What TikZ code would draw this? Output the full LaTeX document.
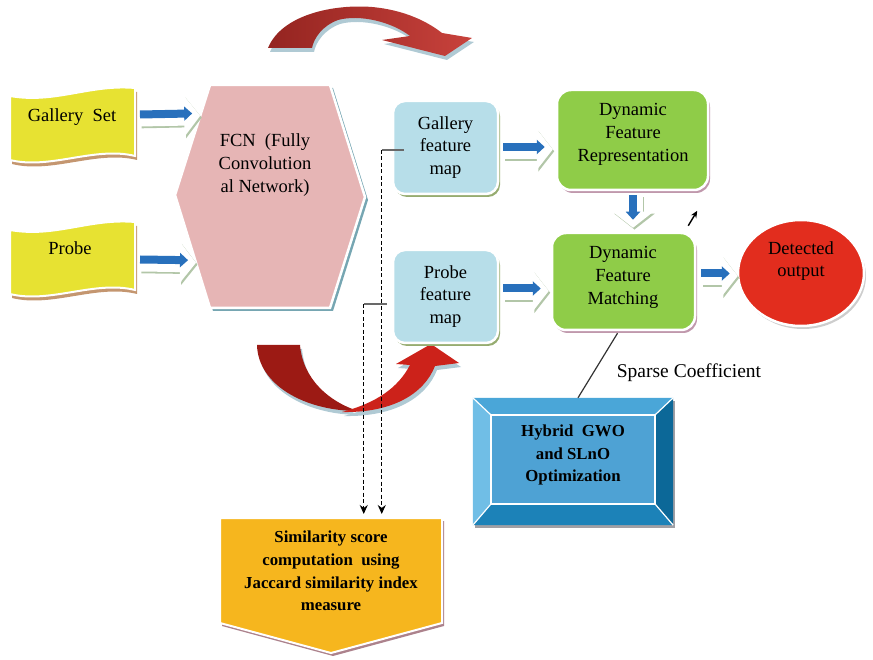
\documentclass[tikz,border=0pt]{standalone}
\usepackage{fontspec}
\setmainfont{Liberation Serif}
\usetikzlibrary{arrows.meta,shadows,shapes.geometric,calc}

\definecolor{flagYellow}{RGB}{231,226,50}
\definecolor{flagShade}{RGB}{196,150,112}
\definecolor{fcnPink}{RGB}{230,181,181}
\definecolor{fcnShade}{RGB}{118,166,178}
\definecolor{mapBlue}{RGB}{183,222,233}
\definecolor{mapShade}{RGB}{150,172,112}
\definecolor{dynGreen}{RGB}{143,204,72}
\definecolor{dynShade}{RGB}{192,152,172}
\definecolor{outRed}{RGB}{226,45,30}
\definecolor{outShade}{RGB}{205,205,205}
\definecolor{flowBlue}{RGB}{40,112,188}
\definecolor{paleShade}{RGB}{178,198,168}
\definecolor{arcDark}{RGB}{148,36,32}
\definecolor{arcLight}{RGB}{200,66,60}
\definecolor{arcLow}{RGB}{156,26,20}
\definecolor{arcBright}{RGB}{204,34,26}
\definecolor{arcShade}{RGB}{176,202,212}
\definecolor{hybOuter}{RGB}{62,152,205}
\definecolor{hybTop}{RGB}{74,166,216}
\definecolor{hybLeft}{RGB}{112,190,230}
\definecolor{hybRight}{RGB}{12,104,152}
\definecolor{hybBottom}{RGB}{28,130,184}
\definecolor{hybInner}{RGB}{78,162,212}
\definecolor{hybShade}{RGB}{160,160,165}
\definecolor{simOrange}{RGB}{246,182,30}
\definecolor{simShade}{RGB}{172,130,140}
\definecolor{stubGray}{RGB}{105,105,105}

% curved arrow outlines (units are points, y grows downwards)
\def\topArc{(268,48) .. controls (282,14) and (335,4) .. (372,7)
  .. controls (405,10) and (428,22) .. (442,33) -- (472,38) -- (445,56)
  -- (382,40) -- (410,36) .. controls (392,22) and (360,14) .. (338,20)
  .. controls (322,26) and (314,38) .. (312,48) -- cycle}
\def\lowArcLeft{(257,345) .. controls (258,385) and (305,411) .. (358,411)
  .. controls (330,402) and (303,380) .. (300,345) -- cycle}
\def\lowArcRight{(342,412) .. controls (392,413) and (424,394) .. (435,366)
  -- (459,363) -- (431,344) -- (396,364) -- (410,365)
  .. controls (398,388) and (376,403) .. (342,412) -- cycle}
\def\flagOutline{(0,8) .. controls (45,16) and (80,-4) .. (125,0) -- (125,68)
  .. controls (85,58) and (40,82) .. (0,72) -- cycle}

% block arrow: pale chevron body with a blue bar on top
\newcommand\flowarrow[3]{%
  \draw[paleEdge] ([shift={(1.5,1.8)}]#1) -- ([shift={(1.5,1.8)}]#2);
  \draw[paleBody] (#1) -- (#2);
  \coordinate (flowBack) at ($(#2)!8pt!(#1)$);
  \draw[blueBody] ($(#1)!#3!90:(#2)$) -- ($(flowBack)!#3!-90:(#1)$);
}

\begin{document}
\begin{tikzpicture}[x=1pt,y=-1pt,
  txt/.style={font=\fontsize{18.5}{22.8}\selectfont, align=center, inner sep=0pt},
  boldtxt/.style={font=\fontsize{16.8}{22.6}\selectfont\bfseries, align=center, inner sep=0pt},
  framed/.style={draw=white, line width=2.5pt},
  flagbox/.style={fill=flagYellow, draw=white, line width=2pt,
    general shadow={fill=flagShade, shadow xshift=2pt, shadow yshift=-4pt}},
  hexbox/.style={fill=fcnPink, framed,
    general shadow={fill=fcnShade, shadow xshift=3pt, shadow yshift=-3pt}},
  mapbox/.style={framed, rectangle, rounded corners=12pt, fill=mapBlue,
    minimum width=105pt, minimum height=93pt, txt,
    general shadow={fill=mapShade, shadow xshift=2pt, shadow yshift=-3pt}},
  dynbox/.style={framed, rectangle, rounded corners=14pt, fill=dynGreen,
    general shadow={fill=dynShade, shadow xshift=2pt, shadow yshift=-3pt}},
  outbox/.style={framed, ellipse, fill=outRed, minimum width=126pt, minimum height=106pt,
    general shadow={fill=outShade, shadow xshift=2pt, shadow yshift=-3pt}},
  hybbox/.style={rectangle, fill=hybOuter, minimum width=200pt, minimum height=127pt, inner sep=0pt,
    general shadow={fill=hybShade, shadow xshift=2pt, shadow yshift=-3pt}},
  simbox/.style={fill=simOrange, draw=white, line width=2pt,
    general shadow={fill=simShade, shadow xshift=2pt, shadow yshift=-3pt}},
  paleBody/.style={draw=white, line width=19pt, -{Triangle[width=40pt,length=16pt]}},
  paleEdge/.style={draw=paleShade, line width=19pt, -{Triangle[width=40pt,length=16pt]}},
  blueBody/.style={draw=flowBlue, line width=8pt, -{Triangle[width=14pt,length=8pt]}},
  dropArrow/.style={draw=black, line width=1.3pt, dash pattern=on 4pt off 2.5pt,
    -{Stealth[length=9pt,width=8pt]}},
  stub/.style={draw=stubGray, line width=1.1pt},
  sparseLine/.style={draw=black!80, line width=1.2pt},
  nudge/.style={draw=black, line width=1.4pt, -{Stealth[length=7pt,width=6pt]}}
]
\useasboundingbox (0,0) rectangle (873,660);

% curved red arrows
\fill[arcShade, shift={(2,4)}] \topArc;
\shade[left color=arcDark, right color=arcLight] \topArc;
\fill[arcShade, shift={(2,4)}] \lowArcLeft;
\fill[arcShade, shift={(2,4)}] \lowArcRight;
\fill[arcLow] \lowArcLeft;
\fill[arcBright] \lowArcRight;

% input banners
\begin{scope}[shift={(10,88)}]
  \path[flagbox] \flagOutline;
  \coordinate (gsEdge) at (130,29);
\end{scope}
\node[txt] (gsText) at (72,117) {Gallery\ \ Set};
\begin{scope}[shift={(10,222)}]
  \path[flagbox] \flagOutline;
  \coordinate (prEdge) at (130,40);
\end{scope}
\node[txt] (prText) at (70,248) {Probe};

% FCN hexagon
\path[hexbox] (210,85) coordinate (hexNW) -- (330,85) coordinate (hexNE)
  -- (365,197) coordinate (hexE) -- (330,308) coordinate (hexSE)
  -- (210,308) coordinate (hexSW) -- (175,195) coordinate (hexW) -- cycle;
\node[txt] (fcn) at (265,165) {FCN\ \ (Fully\\Convolution\\al Network)};

% feature maps
\node[mapbox] (gfm) at (445.5,147.5) {Gallery\\feature\\map};
\node[mapbox] (pfm) at (445.5,296.5) {Probe\\feature\\map};

% dynamic feature stages
\node[dynbox, minimum width=151pt, minimum height=100pt] (dfr) at (632.5,140) {};
\node[txt] (dfrText) at (633,134.5) {Dynamic\\Feature\\Representation};
\node[dynbox, minimum width=143pt, minimum height=97pt] (dfm) at (623.5,281.5) {};
\node[txt] (dfmText) at (623,277.5) {Dynamic\\Feature\\Matching};

% output
\node[outbox] (det) at (801,273) {};
\node[txt] (detText) at (801,261) {Detected\\output};

% optimisation block with bevelled frame
\node[hybbox] (hyb) at (573,461.5) {};
\coordinate (hA) at (hyb.north west);
\coordinate (hB) at (hyb.north east);
\coordinate (hC) at (hyb.south east);
\coordinate (hD) at (hyb.south west);
\coordinate (iA) at ([shift={(18,17)}]hyb.north west);
\coordinate (iB) at ([shift={(-18,17)}]hyb.north east);
\coordinate (iC) at ([shift={(-18,-21)}]hyb.south east);
\coordinate (iD) at ([shift={(18,-21)}]hyb.south west);
\fill[hybTop] (hA) -- (hB) -- (iB) -- (iA) -- cycle;
\fill[hybRight] (hB) -- (hC) -- (iC) -- (iB) -- cycle;
\fill[hybBottom] (hC) -- (hD) -- (iD) -- (iC) -- cycle;
\fill[hybLeft] (hD) -- (hA) -- (iA) -- (iD) -- cycle;
\draw[white, line width=1.2pt] (hA) -- (iA) (hB) -- (iB) (hC) -- (iC) (hD) -- (iD);
\draw[white, line width=2.5pt, fill=hybInner] (iA) rectangle (iC);
\node[boldtxt] (hybText) at (573,455) {Hybrid\ \ GWO\\and SLnO\\Optimization};

% similarity score block
\path[simbox] (220,518) -- (442,518) -- (442,623) -- (331,653) -- (220,623) -- cycle;
\coordinate (simTop) at (331,514);
\node[boldtxt] (sim) at (331,571) {Similarity score\\computation\ \ using\\Jaccard similarity index\\measure};

% block arrows
\coordinate (a1e) at ($(hexW)!0.72!(hexNW)$);
\flowarrow{gsEdge}{a1e}{2.5pt}
\coordinate (a2e) at ($(hexW)!0.6!(hexSW)$);
\flowarrow{prEdge}{a2e}{2.5pt}
\coordinate (a3s) at ([shift={(4,2)}]gfm.east);
\coordinate (a3e) at ([shift={(-3,9.5)}]dfr.west);
\flowarrow{a3s}{a3e}{2.5pt}
\coordinate (a4s) at ([shift={(4,-5.5)}]pfm.east);
\coordinate (a4e) at ([shift={(-2,9.5)}]dfm.west);
\flowarrow{a4s}{a4e}{2.5pt}
\coordinate (a5s) at ([shift={(0.5,4)}]dfr.south);
\coordinate (a5e) at ([shift={(9.5,-4)}]dfm.north);
\flowarrow{a5s}{a5e}{0pt}
\coordinate (a6s) at ([shift={(5,-5.5)}]dfm.east);
\coordinate (a6e) at ([shift={(1,3)}]det.west);
\flowarrow{a6s}{a6e}{2.5pt}

% dashed links to the similarity block
\coordinate (gStub) at ([shift={(12,2.5)}]gfm.west);
\coordinate (gDrop) at ([shift={(-10,2.5)}]gfm.west);
\draw[stub] (gStub) -- (gDrop);
\draw[dropArrow] (gDrop) -- (gDrop |- simTop);
\coordinate (pStub) at ([shift={(-5,7.5)}]pfm.west);
\coordinate (pDrop) at ([shift={(-28,7.5)}]pfm.west);
\draw[stub] (pStub) -- (pDrop);
\draw[dropArrow] (pDrop) -- (pDrop |- simTop);

% sparse coefficient link
\draw[sparseLine] ([shift={(-6,2)}]dfm.south) -- ([shift={(5,0)}]hyb.north);
\node[font=\fontsize{19.5}{22}\selectfont, inner sep=0pt] (sparse) at (689,373) {Sparse Coefficient};

% short arrow off the matching block
\coordinate (nudgeFrom) at ([shift={(-8,-6)}]dfm.north east);
\coordinate (nudgeTo) at ([shift={(1,-21)}]dfm.north east);
\draw[nudge] (nudgeFrom) -- (nudgeTo);

\end{tikzpicture}
\end{document}
